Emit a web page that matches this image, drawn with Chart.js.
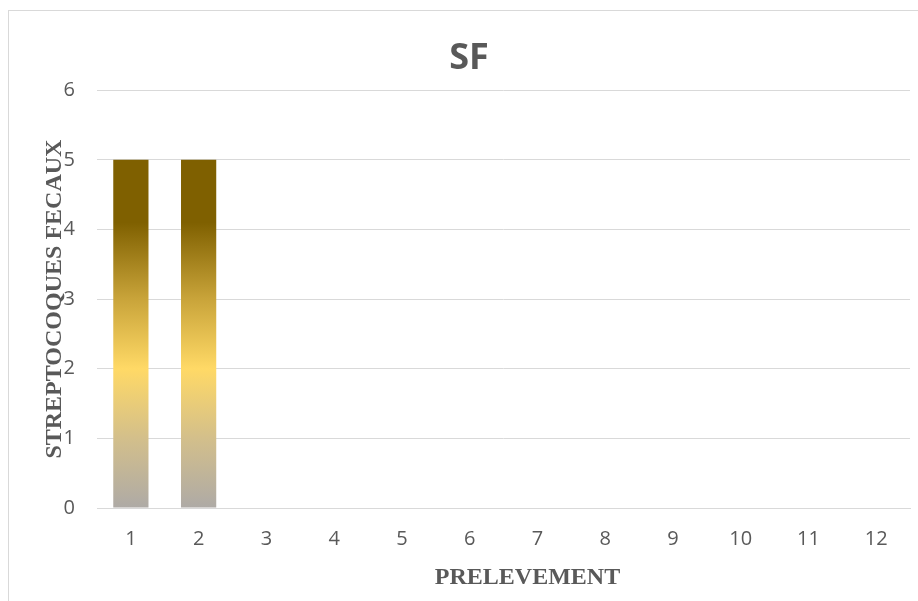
<!DOCTYPE html>
<html>
<head>
<meta charset="utf-8">
<script src="https://cdn.jsdelivr.net/npm/chart.js@4.4.1/dist/chart.umd.min.js"></script>
<style>
  html, body { margin: 0; padding: 0; background: #fff; }
  #wrap { width: 918px; height: 601px; position: relative; }
</style>
</head>
<body>
<div id="wrap"><canvas id="sfChart"></canvas></div>
<script>
// data
const categories = ['1', '2', '3', '4', '5', '6', '7', '8', '9', '10', '11', '12'];
const sfValues = [5, 5, 0, 0, 0, 0, 0, 0, 0, 0, 0, 0];
const yTicks = [0, 1, 2, 3, 4, 5, 6];

const textGray = '#595959';
const gridGray = '#d9d9d9';

// light frame around the chart (left + top edges visible, rest runs off the page)
const framePlugin = {
    id: 'frame',
    beforeDraw(chart) {
        const c = chart.ctx;
        c.save();
        c.fillStyle = '#fff';
        c.fillRect(0, 0, chart.width, chart.height);
        c.strokeStyle = gridGray;
        c.lineWidth = 1;
        c.strokeRect(8.5, 10.5, chart.width + 10, chart.height + 10);
        c.restore();
    }
};

// gold gradient per bar: grey at the base -> yellow -> dark brown at the top
function barGradient(context) {
    const chart = context.chart;
    const yScale = chart.scales.y;
    if (!chart.chartArea || !yScale) return '#bf9000';
    const v = context.raw || 0;
    const y0 = yScale.getPixelForValue(0);
    const y1 = yScale.getPixelForValue(v);
    if (y0 === y1) return '#afabab';
    const g = chart.ctx.createLinearGradient(0, y0, 0, y1);
    g.addColorStop(0, '#aeaaa6');
    g.addColorStop(0.2, '#d3bf8b');
    g.addColorStop(0.4, '#ffd966');
    g.addColorStop(0.6, '#c9a43a');
    g.addColorStop(0.82, '#7f6000');
    g.addColorStop(1, '#7f6000');
    return g;
}

new Chart(document.getElementById('sfChart'), {
    type: 'bar',
    data: {
        labels: categories,
        datasets: [{
            label: 'SF',
            data: sfValues,
            backgroundColor: barGradient,
            borderWidth: 0,
            categoryPercentage: 1,
            barPercentage: 0.52
        }]
    },
    options: {
        responsive: true,
        maintainAspectRatio: false,
        animation: false,
        layout: { padding: { left: 0, right: 8, top: 0, bottom: 0 } },
        plugins: {
            legend: { display: false },
            tooltip: { enabled: false },
            title: {
                display: true,
                text: '   SF',   // leading spaces nudge it right like the original
                color: textGray,
                font: { family: "'Open Sans', sans-serif", size: 36, weight: 'bold', lineHeight: 1.2 },
                padding: { top: 37, bottom: 10 }
            }
        },
        scales: {
            x: {
                grid: { display: false, drawTicks: false },
                border: { display: true, color: gridGray, width: 1 },
                ticks: {
                    color: textGray,
                    padding: 19,
                    font: { family: "'Open Sans', sans-serif", size: 20 }
                },
                title: {
                    display: true,
                    text: '        PRELEVEMENT',
                    color: textGray,
                    font: { family: "'Liberation Serif', 'Times New Roman', serif", size: 24, weight: 'bold', lineHeight: 1.2 },
                    padding: { top: 0, bottom: 9 }
                },
                afterFit(scale) { scale.height = 93; }
            },
            y: {
                min: 0,
                max: 6,
                afterBuildTicks(scale) { scale.ticks = yTicks.map(v => ({ value: v })); },
                grid: { color: gridGray, lineWidth: 1, drawTicks: false },
                border: { display: false },
                ticks: {
                    color: textGray,
                    padding: 22,
                    font: { family: "'Open Sans', sans-serif", size: 20 }
                },
                title: {
                    display: true,
                    text: 'STREPTOCOQUES FECAUX',
                    color: textGray,
                    font: { family: "'Liberation Serif', 'Times New Roman', serif", size: 24, weight: 'bold', lineHeight: 1.2 },
                    padding: { top: 40, bottom: 0 }
                },
                afterFit(scale) { scale.width = 97; }
            }
        }
    },
    plugins: [framePlugin]
});
</script>
</body>
</html>
